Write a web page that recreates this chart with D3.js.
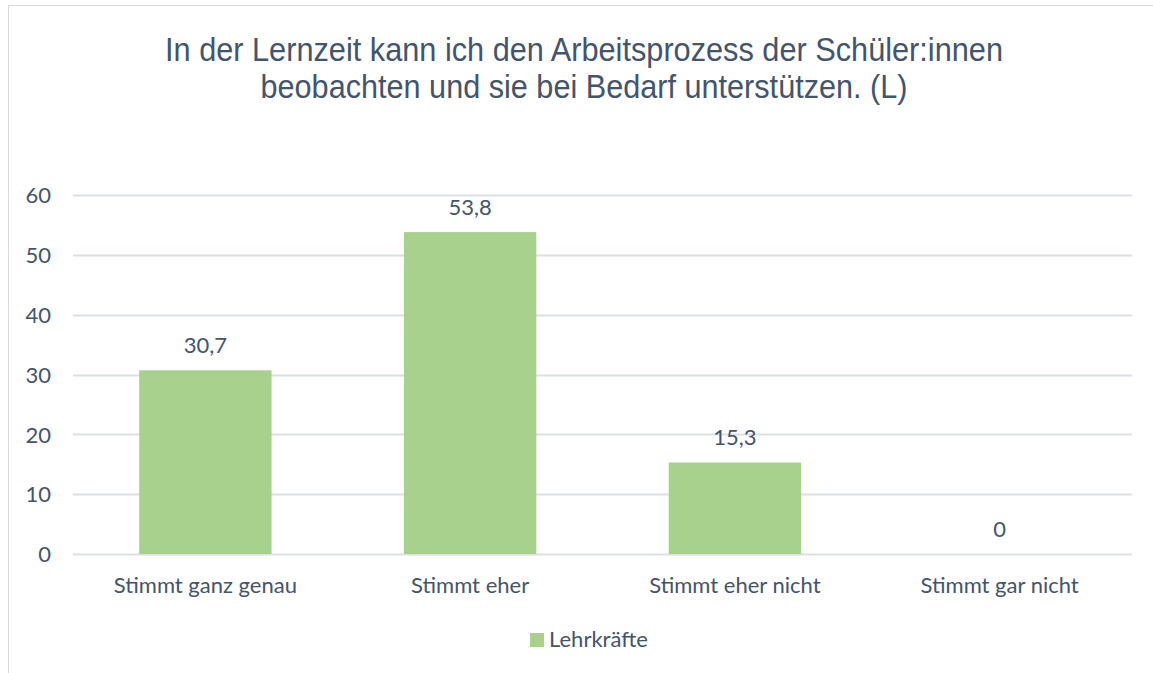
<!DOCTYPE html>
<html>
<head>
<meta charset="utf-8">
<script src="https://cdn.jsdelivr.net/npm/d3@7"></script>
<style>
  html, body { margin: 0; padding: 0; background: #fff; }
  svg text { fill: #44546A; }
</style>
</head>
<body>
<div id="chart"></div>
<script>
// data
var categories = ["Stimmt ganz genau", "Stimmt eher", "Stimmt eher nicht", "Stimmt gar nicht"];
var values = [30.7, 53.8, 15.3, 0];
var yTicks = [0, 10, 20, 30, 40, 50, 60];
var seriesName = "Lehrkräfte";
var titleLines = ["In der Lernzeit kann ich den Arbeitsprozess der Schüler:innen",
                  "beobachten und sie bei Bedarf unterstützen. (L)"];
var titleWidths = [838, 647]; // narrow font in the original, squeeze to fit

var width = 1153, height = 673;
var labelFont = "Lato, 'Open Sans', sans-serif";

var svg = d3.select("#chart").append("svg")
    .attr("width", width).attr("height", height);

// chart frame (runs past the right and bottom edge in the reference)
svg.append("rect")
    .attr("x", 8.5).attr("y", 5.5)
    .attr("width", 1300).attr("height", 800)
    .style("fill", "#fff").style("stroke", "#D9D9D9").style("stroke-width", "1px");

var plot = { left: 73, right: 1132, top: 195, bottom: 554 };

var x = d3.scaleBand()
    .domain(categories)
    .range([plot.left, plot.right])
    .paddingInner(0.5)
    .paddingOuter(0.25);

var y = d3.scaleLinear()
    .domain([0, 60])
    .range([plot.bottom, plot.top]);

// title
svg.append("g").selectAll("text")
    .data(titleLines)
    .enter().append("text")
      .attr("x", 584)
      .attr("y", function(d, i) { return 61 + i * 37; })
      .attr("text-anchor", "middle")
      .attr("textLength", function(d, i) { return titleWidths[i]; })
      .attr("lengthAdjust", "spacingAndGlyphs")
      .style("font-family", "'Liberation Sans', Arial, sans-serif")
      .style("font-size", "33px")
      .text(function(d) { return d; });

// gridlines
svg.append("g")
    .selectAll("line")
    .data(yTicks)
    .enter().append("line")
      .attr("x1", plot.left).attr("x2", plot.right)
      .attr("y1", function(d) { return Math.round(y(d)) + 0.5; })
      .attr("y2", function(d) { return Math.round(y(d)) + 0.5; })
      .style("stroke", "#DCE0E5").style("stroke-width", "2px");

// y axis labels
var yAxis = d3.axisLeft(y).tickValues(yTicks).tickSize(0).tickPadding(0);
var yg = svg.append("g")
    .attr("transform", "translate(51,0)")
    .call(yAxis);
yg.select(".domain").remove();
yg.selectAll("text")
    .attr("dy", "0.35em")
    .style("font-family", labelFont).style("font-size", "22px").style("fill", "#44546A");

// bars
svg.append("g")
    .selectAll("rect")
    .data(values)
    .enter().append("rect")
      .attr("x", function(d, i) { return x(categories[i]); })
      .attr("y", function(d) { return y(d); })
      .attr("width", x.bandwidth())
      .attr("height", function(d) { return plot.bottom - y(d); })
      .style("fill", "#A9D18E");

// value labels
svg.append("g")
    .selectAll("text")
    .data(values)
    .enter().append("text")
      .attr("x", function(d, i) { return x(categories[i]) + x.bandwidth() / 2; })
      .attr("y", function(d) { return y(d) - 17; })
      .attr("text-anchor", "middle")
      .style("font-family", labelFont).style("font-size", "22px")
      .text(function(d) { return String(d).replace(".", ","); });

// category axis
var xAxis = d3.axisBottom(x).tickSize(0).tickPadding(0);
var xg = svg.append("g")
    .attr("transform", "translate(0,593)")
    .call(xAxis);
xg.select(".domain").remove();
xg.selectAll("text")
    .attr("dy", 0)
    .style("font-family", labelFont).style("font-size", "22px").style("fill", "#44546A");

// legend
var legend = svg.append("g").attr("transform", "translate(530,633)");
legend.append("rect")
    .attr("width", 14).attr("height", 14)
    .style("fill", "#A9D18E");
legend.append("text")
    .attr("x", 19).attr("y", 14)
    .style("font-family", labelFont).style("font-size", "22px")
    .text(seriesName);
</script>
</body>
</html>
